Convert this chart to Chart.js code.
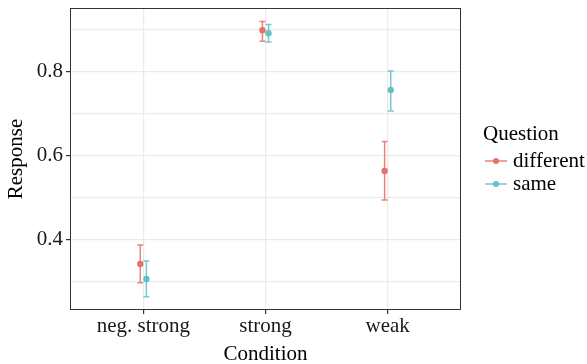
<!DOCTYPE html>
<html>
<head>
<meta charset="utf-8">
<script src="https://cdn.jsdelivr.net/npm/chart.js"></script>
<style>
  html, body { margin: 0; padding: 0; background: #fff; }
  #wrap { width: 587px; height: 364px; }
</style>
</head>
<body>
<div id="wrap"><canvas id="graph" width="587" height="364"></canvas></div>
<script>
const conditions = ['neg. strong', 'strong', 'weak'];
const questions = ['different', 'same'];

const diffMean = [0.343, 0.899, 0.564];
const diffLow  = [0.298, 0.873, 0.495];
const diffHigh = [0.388, 0.920, 0.634];

const sameMean = [0.307, 0.892, 0.757];
const sameLow  = [0.265, 0.871, 0.707];
const sameHigh = [0.350, 0.913, 0.802];

const yTicks = [0.3, 0.4, 0.5, 0.6, 0.7, 0.8, 0.9];

const red = '#E4716A';
const redBar = '#E8847E';
const teal = '#62C1C5';
const tealBar = '#78C8CC';
const dodge = 0.025;
const font = 'Liberation Serif';
const fsize = 21;

function pts(means, lows, highs, off) {
  return means.map((m, i) => ({ x: i + 1 + off, y: m, lo: lows[i], hi: highs[i] }));
}

const errorBars = {
  id: 'errorBars',
  beforeDatasetsDraw(chart) {
    const { ctx, scales: { x, y } } = chart;
    chart.data.datasets.forEach(ds => {
      ctx.save();
      ctx.strokeStyle = ds.barColor;
      ctx.lineWidth = 1.5;
      ds.data.forEach(p => {
        const px = x.getPixelForValue(p.x);
        const top = y.getPixelForValue(p.hi);
        const bot = y.getPixelForValue(p.lo);
        ctx.beginPath();
        ctx.moveTo(px, top); ctx.lineTo(px, bot);
        ctx.moveTo(px - 3, top); ctx.lineTo(px + 3, top);
        ctx.moveTo(px - 3, bot); ctx.lineTo(px + 3, bot);
        ctx.stroke();
      });
      ctx.restore();
    });
  }
};

const frameAndLegend = {
  id: 'frameAndLegend',
  afterDraw(chart) {
    const { ctx, chartArea: a } = chart;
    ctx.save();
    ctx.strokeStyle = '#333333';
    ctx.lineWidth = 1;
    ctx.strokeRect(Math.round(a.left) + 0.5, Math.round(a.top) + 0.5,
                   Math.round(a.right - a.left) - 1, Math.round(a.bottom - a.top) - 1);

    ctx.fillStyle = '#000';
    ctx.font = fsize + 'px "' + font + '"';
    ctx.textBaseline = 'alphabetic';
    ctx.textAlign = 'left';
    ctx.fillText('Question', 483, 140);
    const rows = [161, 184];
    chart.data.datasets.forEach((ds, i) => {
      const cy = rows[i];
      ctx.strokeStyle = ds.barColor;
      ctx.lineWidth = 1.5;
      ctx.beginPath();
      ctx.moveTo(485, cy); ctx.lineTo(507, cy);
      ctx.stroke();
      ctx.fillStyle = ds.backgroundColor;
      ctx.beginPath();
      ctx.arc(496, cy, 3, 0, Math.PI * 2);
      ctx.fill();
      ctx.fillStyle = '#000';
      ctx.fillText(questions[i], 513, cy + 6);
    });
    ctx.restore();
  }
};

new Chart(document.getElementById('graph'), {
  type: 'scatter',
  data: {
    datasets: [
      { label: questions[0], data: pts(diffMean, diffLow, diffHigh, -dodge),
        backgroundColor: red, borderColor: red, barColor: redBar, pointRadius: 3.2, pointBorderWidth: 0 },
      { label: questions[1], data: pts(sameMean, sameLow, sameHigh, dodge),
        backgroundColor: teal, borderColor: teal, barColor: tealBar, pointRadius: 3.2, pointBorderWidth: 0 }
    ]
  },
  options: {
    responsive: false,
    animation: false,
    layout: { padding: { top: 8, right: 126, left: 0, bottom: 0 } },
    plugins: { legend: { display: false }, tooltip: { enabled: false } },
    scales: {
      x: {
        type: 'linear',
        min: 0.4, max: 3.6,
        afterBuildTicks(s) { s.ticks = conditions.map((c, i) => ({ value: i + 1 })); },
        afterFit(s) { s.height = 54; s.paddingLeft = 0; s.paddingRight = 0; },
        ticks: {
          callback: v => conditions[v - 1],
          color: '#1a1a1a', font: { family: font, size: fsize }, padding: 0, maxRotation: 0
        },
        grid: { color: '#EBEBEB', lineWidth: 1.2, tickColor: '#333333', tickLength: 4 },
        border: { display: false },
        title: { display: true, text: 'Condition', color: '#000',
                 font: { family: font, size: fsize, lineHeight: 0.9 }, padding: { top: 2, bottom: 0 } }
      },
      y: {
        min: 0.2333, max: 0.952,
        afterBuildTicks(s) { s.ticks = yTicks.map(v => ({ value: v })); },
        afterFit(s) { s.width = 70; s.paddingTop = 0; s.paddingBottom = 0; },
        ticks: {
          callback: v => (Math.round(v * 10) % 2 === 0 ? v.toFixed(1) : ''),
          color: '#1a1a1a', font: { family: font, size: fsize }, padding: 3
        },
        grid: {
          color: '#EBEBEB', lineWidth: 1.2,
          tickColor: c => (Math.round(c.tick.value * 10) % 2 === 0 ? '#333333' : 'rgba(0,0,0,0)'),
          tickLength: 4
        },
        border: { display: false },
        title: { display: true, text: 'Response', color: '#000',
                 font: { family: font, size: fsize }, padding: { top: 4, bottom: 0 } }
      }
    }
  },
  plugins: [errorBars, frameAndLegend]
});
</script>
</body>
</html>
